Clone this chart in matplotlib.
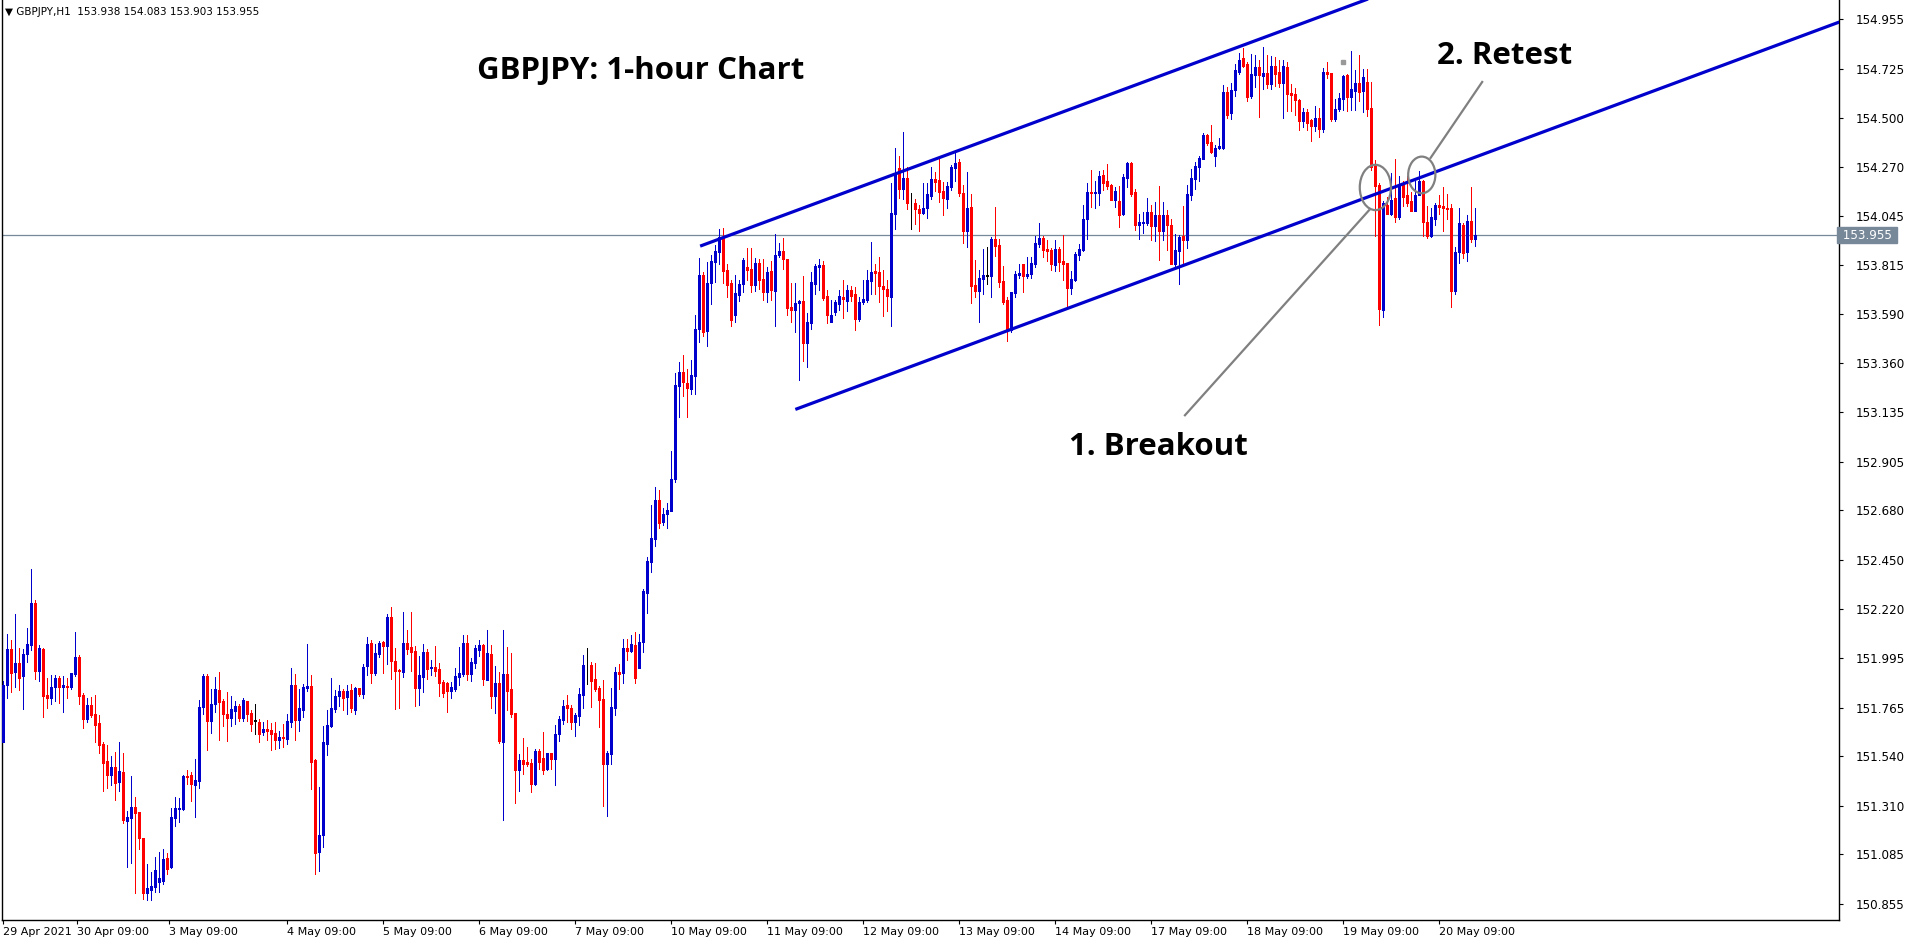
import matplotlib
matplotlib.use("Agg")
import matplotlib.pyplot as plt
import matplotlib.transforms as mtransforms
from matplotlib.patches import Ellipse
import numpy as np

# ---------------- data (GBPJPY H1) ----------------
opens = [
151.607,151.870,152.037,151.932,151.972,151.909,152.011,152.055,152.250,151.936,
152.037,151.824,151.811,151.858,151.904,151.858,151.867,151.862,151.922,151.997,
151.824,151.714,151.779,151.737,151.691,151.598,151.515,151.454,151.488,151.422,
151.468,151.239,151.255,151.304,151.281,151.160,150.907,150.921,150.935,150.958,
150.963,151.068,151.026,151.255,151.296,151.295,151.448,151.452,151.407,151.426,
151.769,151.911,151.704,151.783,151.846,151.795,151.737,151.718,151.750,151.772,
151.718,151.795,151.740,151.703,151.698,151.652,151.665,151.661,151.647,151.614,
151.628,151.621,151.699,151.869,151.709,151.755,151.855,151.865,151.523,151.097,
151.176,151.598,151.681,151.760,151.818,151.842,151.814,151.846,151.755,151.855,
151.828,151.957,152.064,151.927,152.015,152.069,152.052,152.185,151.982,151.939,
151.931,152.064,152.046,152.027,151.857,151.908,152.023,151.948,151.953,151.944,
151.884,151.879,151.843,151.850,151.908,151.922,152.064,151.922,151.973,152.032,
152.055,151.894,152.013,151.820,151.879,151.607,151.920,151.851,151.740,151.477,
151.522,151.512,151.508,151.412,151.563,151.531,151.482,151.554,151.528,151.644,
151.709,151.777,151.763,151.699,151.727,151.825,151.962,151.962,151.899,151.857,
151.806,151.505,151.551,151.764,151.931,151.927,152.042,152.028,152.055,151.950,
152.067,152.298,152.441,152.548,152.727,152.627,152.663,152.677,152.824,153.255,
153.321,153.271,153.243,153.303,153.520,153.770,153.511,153.732,153.832,153.878,
153.947,153.793,153.732,153.585,153.676,153.729,153.807,153.798,153.724,153.826,
153.752,153.693,153.789,153.697,153.864,153.881,153.844,153.620,153.609,153.640,
153.651,153.456,153.549,153.730,153.809,153.816,153.673,153.554,153.600,153.637,
153.668,153.651,153.701,153.682,153.568,153.646,153.654,153.744,153.789,153.784,
153.720,153.706,153.670,154.055,154.267,154.171,154.220,154.104,154.104,154.076,
154.059,154.081,154.138,154.216,154.211,154.160,154.124,154.180,154.267,154.294,
154.152,153.976,154.086,153.724,153.698,153.752,153.766,153.766,153.937,153.909,
153.742,153.654,153.515,153.688,153.772,153.821,153.767,153.773,153.823,153.916,
153.943,153.892,153.888,153.818,153.892,153.835,153.826,153.712,153.749,153.865,
153.888,154.030,154.155,154.152,154.152,154.234,154.208,154.187,154.118,154.115,
154.055,154.220,154.291,154.155,154.004,154.011,154.011,154.062,153.999,154.048,
153.976,154.048,154.002,153.823,153.883,153.953,153.934,154.143,154.217,154.271,
154.309,154.419,154.387,154.322,154.359,154.359,154.620,154.520,154.630,154.713,
154.776,154.748,154.602,154.699,154.735,154.694,154.707,154.657,154.739,154.711,
154.662,154.735,154.616,154.609,154.583,154.486,154.526,154.489,154.463,154.498,
154.449,154.713,154.708,154.493,154.540,154.588,154.699,154.595,154.623,154.660,
154.623,154.664,154.545,154.276,154.188,153.607,154.093,154.055,154.125,154.037,
154.190,154.143,154.111,154.069,154.139,154.204,154.017,153.949,154.032,154.093,
154.088,154.083,154.079,153.694,153.875,154.004,153.875,154.021,153.938]

highs = [
151.888,152.106,152.079,152.199,152.041,152.037,152.134,152.408,152.262,152.055,
152.041,151.904,151.916,151.916,151.909,151.913,151.904,151.926,152.116,152.009,
151.833,151.811,151.816,151.825,151.732,151.603,151.589,151.538,151.561,151.603,
151.556,151.285,151.448,151.350,151.281,151.160,151.040,151.003,151.072,151.095,
151.109,151.091,151.299,151.350,151.346,151.452,151.475,151.466,151.526,151.800,
151.922,151.922,151.851,151.907,151.930,151.805,151.837,151.818,151.795,151.781,
151.809,151.795,151.754,151.781,151.712,151.699,151.707,151.693,151.698,151.656,
151.690,151.735,151.948,151.920,151.851,151.874,152.059,151.916,151.528,151.398,
151.681,151.755,151.902,151.846,151.869,151.851,151.869,151.874,151.860,151.855,
151.967,152.090,152.080,152.060,152.072,152.074,152.199,152.231,152.041,151.945,
152.208,152.125,152.208,152.050,152.004,152.060,152.037,151.986,152.050,151.972,
151.894,151.884,151.884,151.948,152.046,152.101,152.101,151.995,152.055,152.078,
152.060,152.125,152.055,151.958,151.930,152.124,152.046,152.018,151.740,151.550,
151.624,151.582,151.526,151.573,151.573,151.652,151.554,151.554,151.684,151.726,
151.800,151.823,151.777,151.740,151.855,152.008,152.041,151.976,151.971,151.866,
151.894,151.565,151.855,151.954,151.968,152.081,152.081,152.102,152.117,152.108,
152.315,152.462,152.702,152.787,152.773,152.688,152.714,152.954,153.316,153.367,
153.401,153.335,153.376,153.585,153.850,153.784,153.830,153.862,153.908,153.985,
153.990,153.823,153.745,153.770,153.745,153.850,153.895,153.895,153.849,153.844,
153.844,153.807,153.835,153.960,153.918,153.942,153.844,153.733,153.733,153.654,
153.765,153.594,153.784,153.821,153.844,153.835,153.701,153.654,153.654,153.701,
153.747,153.724,153.719,153.716,153.668,153.747,153.793,153.924,153.822,153.854,
153.794,153.747,154.197,154.359,154.322,154.433,154.271,154.151,154.123,154.095,
154.197,154.197,154.271,154.248,154.318,154.203,154.202,154.280,154.345,154.308,
154.188,154.248,154.146,153.840,153.794,153.891,153.900,153.947,154.085,153.937,
153.812,153.670,153.691,153.790,153.821,153.821,153.855,153.854,153.953,154.011,
153.953,153.933,153.895,153.933,153.900,153.956,153.826,153.790,153.877,153.915,
154.095,154.197,154.257,154.208,154.252,154.257,154.285,154.192,154.178,154.183,
154.238,154.296,154.296,154.169,154.053,154.062,154.127,154.095,154.109,154.183,
154.109,154.071,154.031,153.962,153.957,154.090,154.187,154.262,154.294,154.322,
154.428,154.424,154.465,154.373,154.405,154.650,154.640,154.660,154.750,154.800,
154.823,154.759,154.795,154.790,154.767,154.827,154.790,154.785,154.781,154.767,
154.767,154.758,154.656,154.637,154.588,154.546,154.541,154.495,154.554,154.544,
154.730,154.758,154.708,154.586,154.616,154.699,154.704,154.809,154.721,154.790,
154.724,154.726,154.664,154.304,154.196,154.111,154.134,154.241,154.310,154.227,
154.204,154.227,154.157,154.204,154.250,154.211,154.088,154.083,154.102,154.142,
154.176,154.144,154.097,153.902,154.079,154.009,154.046,154.176,154.083]

lows = [
151.607,151.811,151.839,151.858,151.848,151.760,151.978,152.032,151.895,151.890,
151.719,151.765,151.783,151.797,151.788,151.746,151.811,151.853,151.909,151.783,
151.672,151.700,151.719,151.603,151.552,151.376,151.394,151.408,151.338,151.380,
151.230,151.027,151.046,150.907,151.111,150.879,150.874,150.874,150.912,150.912,
150.949,150.995,151.021,151.217,151.236,151.290,151.412,151.333,151.259,151.394,
151.737,151.570,151.648,151.746,151.616,151.681,151.611,151.681,151.690,151.704,
151.704,151.704,151.658,151.644,151.607,151.639,151.614,151.570,151.574,151.577,
151.584,151.598,151.676,151.616,151.658,151.723,151.842,151.389,150.995,151.009,
151.120,151.547,151.676,151.746,151.772,151.754,151.737,151.746,151.737,151.820,
151.811,151.918,151.880,151.918,152.001,151.927,151.969,151.899,151.760,151.765,
151.908,152.015,151.936,151.774,151.779,151.839,151.899,151.918,151.913,151.820,
151.816,151.746,151.811,151.843,151.871,151.913,151.894,151.890,151.950,152.006,
151.871,151.894,151.765,151.741,151.602,151.245,151.755,151.723,151.324,151.380,
151.458,151.495,151.375,151.407,151.482,151.458,151.477,151.482,151.407,151.611,
151.690,151.699,151.667,151.635,151.686,151.764,151.876,151.769,151.843,151.676,
151.310,151.264,151.505,151.732,151.852,151.877,151.987,152.023,151.877,151.948,
152.023,152.205,152.392,152.516,152.599,152.610,152.599,152.677,152.812,153.110,
153.207,153.113,153.220,153.220,153.461,153.488,153.443,153.638,153.740,153.819,
153.734,153.669,153.532,153.550,153.649,153.692,153.747,153.691,153.696,153.705,
153.654,153.646,153.654,153.534,153.855,153.798,153.586,153.554,153.507,153.285,
153.371,153.345,153.521,153.682,153.701,153.656,153.548,153.554,153.585,153.608,
153.571,153.605,153.651,153.517,153.558,153.637,153.646,153.684,153.684,153.647,
153.582,153.605,153.536,153.985,154.129,154.124,154.078,153.985,154.008,153.976,
154.055,154.036,154.124,154.161,154.110,154.046,154.083,154.165,154.208,154.138,
153.920,153.902,153.642,153.670,153.554,153.684,153.730,153.670,153.860,153.716,
153.637,153.466,153.508,153.670,153.758,153.693,153.758,153.758,153.809,153.902,
153.855,153.837,153.795,153.790,153.790,153.749,153.624,153.684,153.744,153.841,
153.883,153.939,154.087,154.081,154.096,154.164,154.169,154.118,154.087,153.994,
154.050,154.178,154.138,153.980,153.939,153.966,154.004,153.934,153.929,153.841,
153.934,153.888,153.823,153.813,153.730,153.823,153.897,154.118,154.169,154.206,
154.308,154.374,154.336,154.275,154.354,154.354,154.500,154.495,154.600,154.700,
154.736,154.578,154.591,154.643,154.504,154.634,154.637,154.634,154.646,154.643,
154.500,154.532,154.532,154.514,154.444,154.456,154.444,154.393,154.440,154.412,
154.435,154.685,154.486,154.486,154.532,154.537,154.532,154.537,154.537,154.577,
154.528,154.505,154.258,153.949,153.538,153.575,154.051,154.046,154.018,154.028,
154.088,154.088,154.069,154.069,154.139,153.949,153.940,153.944,154.004,154.055,
153.972,154.032,153.620,153.680,153.828,153.851,153.833,153.921,153.903]

closes = [
151.870,152.037,151.927,151.972,151.904,152.014,152.060,152.250,151.936,152.041,
151.820,151.807,151.861,151.904,151.858,151.870,151.862,151.926,151.997,151.820,
151.714,151.779,151.732,151.686,151.589,151.510,151.454,151.487,151.417,151.473,
151.244,151.258,151.304,151.278,151.162,150.907,150.929,150.938,151.013,150.975,
151.063,151.018,151.258,151.299,151.299,151.448,151.445,151.412,151.429,151.767,
151.911,151.704,151.781,151.851,151.792,151.737,151.718,151.758,151.772,151.718,
151.800,151.737,151.690,151.703,151.644,151.665,151.656,151.644,151.614,151.628,
151.625,151.703,151.869,151.709,151.763,151.860,151.865,151.514,151.092,151.174,
151.605,151.684,151.763,151.818,151.842,151.809,151.842,151.764,151.855,151.828,
151.953,152.059,151.927,152.018,152.064,152.052,152.185,151.982,151.936,151.936,
152.064,152.038,152.024,151.857,151.916,152.023,151.945,151.953,151.936,151.880,
151.834,151.843,151.860,151.911,151.925,152.064,151.922,151.978,152.041,152.055,
151.899,152.018,151.820,151.877,151.611,151.920,151.843,151.737,151.477,151.522,
151.505,151.505,151.412,151.563,151.514,151.477,151.554,151.528,151.642,151.712,
151.772,151.764,151.699,151.730,151.828,151.962,151.962,151.889,151.852,151.801,
151.505,151.554,151.767,151.930,151.922,152.042,152.028,152.060,151.900,152.069,
152.303,152.445,152.551,152.727,152.622,152.663,152.681,152.824,153.261,153.321,
153.273,153.246,153.307,153.520,153.770,153.507,153.732,153.835,153.881,153.947,
153.789,153.722,153.562,153.686,153.729,153.840,153.795,153.724,153.826,153.747,
153.693,153.784,153.701,153.863,153.881,153.844,153.619,153.609,153.640,153.651,
153.456,153.554,153.738,153.812,153.816,153.665,153.586,153.585,153.646,153.673,
153.659,153.701,153.674,153.568,153.645,153.659,153.747,153.786,153.781,153.717,
153.703,153.675,154.058,154.245,154.171,154.220,154.106,154.104,154.078,154.059,
154.081,154.146,154.216,154.203,154.157,154.129,154.183,154.271,154.290,154.148,
153.976,154.081,153.721,153.698,153.755,153.771,153.766,153.937,153.906,153.739,
153.647,153.520,153.691,153.775,153.780,153.767,153.775,153.826,153.919,153.943,
153.886,153.883,153.823,153.892,153.832,153.823,153.712,153.753,153.869,153.892,
154.031,154.155,154.150,154.155,154.229,154.197,154.183,154.118,154.160,154.050,
154.224,154.291,154.147,154.004,154.016,154.016,154.062,153.999,154.048,153.976,
154.048,154.004,153.823,153.886,153.946,153.934,154.146,154.220,154.275,154.313,
154.419,154.384,154.340,154.359,154.368,154.620,154.512,154.630,154.720,154.767,
154.741,154.597,154.704,154.735,154.699,154.707,154.657,154.739,154.704,154.662,
154.739,154.611,154.606,154.583,154.486,154.526,154.476,154.463,154.498,154.449,
154.713,154.704,154.493,154.540,154.591,154.694,154.595,154.633,154.660,154.620,
154.688,154.541,154.273,154.181,153.612,154.106,154.055,154.120,154.037,154.190,
154.134,154.102,154.069,154.139,154.204,154.014,153.949,154.037,154.093,154.085,
154.079,154.076,153.694,153.879,154.009,153.870,154.021,153.935,153.955]

price_ticks = [154.955, 154.725, 154.500, 154.270, 154.045, 153.815, 153.590,
               153.360, 153.135, 152.905, 152.680, 152.450, 152.220, 151.995,
               151.765, 151.540, 151.310, 151.085, 150.855]
time_labels = ["29 Apr 2021", "30 Apr 09:00", "3 May 09:00", "4 May 09:00",
               "5 May 09:00", "6 May 09:00", "7 May 09:00", "10 May 09:00",
               "11 May 09:00", "12 May 09:00", "13 May 09:00", "14 May 09:00",
               "17 May 09:00", "18 May 09:00", "19 May 09:00", "20 May 09:00"]
time_label_bars = [0, 18.5, 41.5, 71, 95, 119, 143, 167, 191, 215, 239, 263,
                   287, 311, 335, 359]
last_price = 153.955
header_text = "GBPJPY,H1  153.938 154.083 153.903 153.955"

# channel / annotation geometry (bar index, price)
upper_channel = [(174.2, 153.904), (345.0, 155.076)]
lower_channel = [(198.0, 153.147), (459.0, 154.943)]
breakout_circle = (343.0, 154.176, 7.8, 0.21)
retest_circle = (354.6, 154.234, 6.8, 0.17)
breakout_pointer = [(295.4, 153.120), (341.4, 154.070)]
retest_pointer = [(369.7, 154.665), (356.8, 154.313)]
marker_point = (335.0, 154.757)

# ---------------- figure ----------------
W, H = 1916, 946
fig = plt.figure(figsize=(W / 100, H / 100), dpi=100)
fig.patch.set_facecolor("white")
ax = fig.add_axes([1.5 / W, 26 / H, (1839 - 1.5) / W, 1 - 26 / H])
ax.set_facecolor("white")

n = len(opens)
xs = np.arange(n)
o = np.array(opens); h = np.array(highs); l = np.array(lows); c = np.array(closes)
BLUE = "#0000CD"
RED = "#FF0000"
cols = np.where(c > o, BLUE, np.where(c < o, RED, "#000000"))

# wicks (1 px) and bodies (3 px), both as vertical segments on the same x
ax.vlines(xs, l, h, colors=cols, linewidth=0.72, antialiased=False, zorder=3)
bot = np.minimum(o, c)
top = np.maximum(o, c)
small = (top - bot) < 0.004
mid = (o + c) / 2
bot = np.where(small, mid - 0.002, bot)
top = np.where(small, mid + 0.002, top)
bodies = ax.vlines(xs, bot, top, colors=cols, linewidth=2.16,
                   antialiased=False, zorder=4)
bodies.set_capstyle("butt")

ax.set_xlim(-0.45, 458.9)
ax.set_ylim(150.780, 155.045)

# bid line
ax.axhline(last_price, color="#778899", linewidth=0.9, zorder=2)

# channel lines
for seg in (upper_channel, lower_channel):
    ax.plot([seg[0][0], seg[1][0]], [seg[0][1], seg[1][1]], color=BLUE,
            linewidth=2.3, solid_capstyle="butt", zorder=6)

# annotation circles and pointers
for cx, cy, w, hh in (breakout_circle, retest_circle):
    ax.add_patch(Ellipse((cx, cy), w, hh, fill=False, edgecolor="#808080",
                         linewidth=1.6, zorder=7))
for seg in (breakout_pointer, retest_pointer):
    ax.plot([seg[0][0], seg[1][0]], [seg[0][1], seg[1][1]], color="#808080",
            linewidth=1.6, zorder=7)
ax.plot([marker_point[0]], [marker_point[1]], marker="s", markersize=2.5,
        color="#999999", linestyle="none", zorder=7)

# texts
txt_kw = dict(ha="center", va="center", fontsize=22.5, fontweight="bold",
              family=["Open Sans", "DejaVu Sans"], color="black", zorder=8)
ax.text(159.4, 154.715, "GBPJPY: 1-hour Chart", **txt_kw)
ax.text(288.7, 152.975, "1. Breakout", **txt_kw)
ax.text(375.2, 154.785, "2. Retest", **txt_kw)
fig.text(5 / W, 1 - 12 / H, "\u25BC " + header_text, ha="left", va="center",
         fontsize=7.5, color="black", family=["DejaVu Sans"])

# spines / axes
ax.spines["top"].set_visible(False)
for side in ("left", "right", "bottom"):
    ax.spines[side].set_color("black")
    ax.spines[side].set_linewidth(1.0)

ax.yaxis.tick_right()
ax.set_yticks(price_ticks)
ax.set_yticklabels([f"{p:.3f}" for p in price_ticks])
ax.tick_params(axis="y", which="both", direction="out", length=3, width=0.8,
               pad=9, labelsize=8.6, colors="black", left=False)

ax.set_xticks(time_label_bars)
ax.set_xticklabels(time_labels)
for lab in ax.get_xticklabels():
    lab.set_horizontalalignment("left")
ax.tick_params(axis="x", which="both", direction="out", length=3, width=0.8,
               pad=2, labelsize=8, colors="black")

# current price box
trans = mtransforms.blended_transform_factory(ax.transAxes, ax.transData)
ax.text(1.0, last_price, f" {last_price:.3f} ", transform=trans, ha="left",
        va="center", fontsize=8.6, color="white", zorder=10, clip_on=False,
        bbox=dict(boxstyle="square,pad=0.15", facecolor="#778899",
                  edgecolor="#778899"))

fig.savefig("out.png", dpi=100, facecolor="white")
